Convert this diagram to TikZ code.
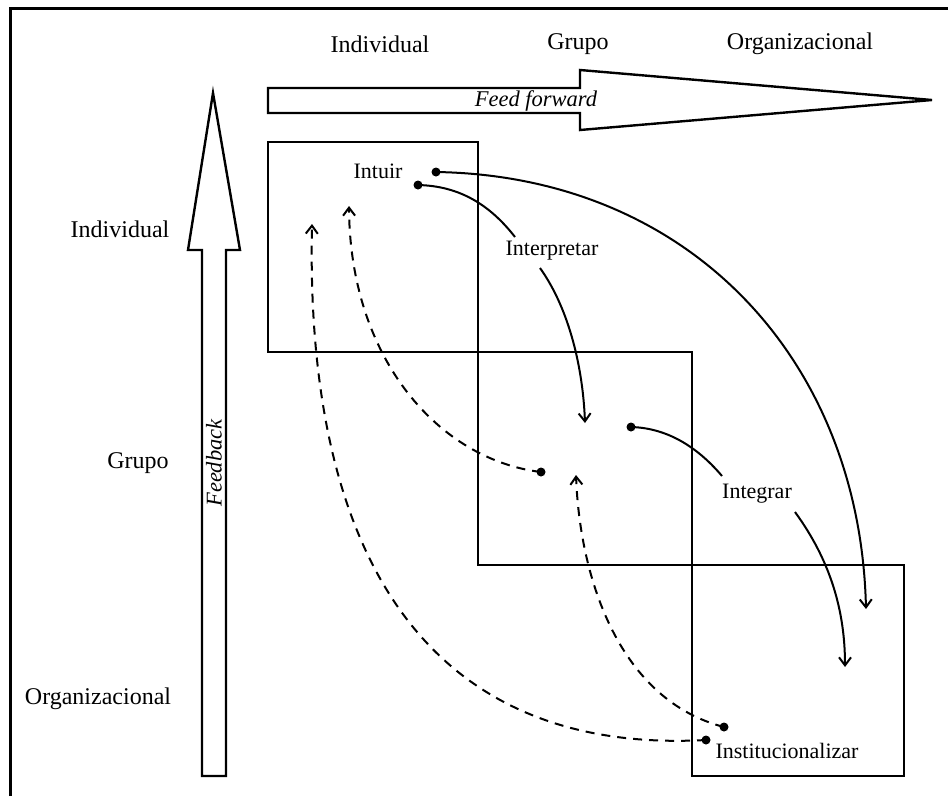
\documentclass[tikz,border=0pt]{standalone}
\usepackage{fontspec}
\setmainfont{Liberation Serif}
\usetikzlibrary{arrows.meta}
\begin{document}
\begin{tikzpicture}[x=1pt,y=-1pt,
  lab/.style={font=\fontsize{22}{26}\selectfont, inner sep=0pt},
  axlab/.style={font=\fontsize{24}{28}\selectfont, inner sep=0pt},
  boxline/.style={draw, line width=2.8pt},
  bigarrow/.style={draw, line width=2.4pt, line join=miter},
  conn/.style={line width=2pt, -{Straight Barb[length=8pt,width=12pt,line width=2pt]}},
  plain/.style={line width=2pt},
  dconn/.style={conn, dash pattern=on 9pt off 7pt},
  dotc/.style={circle, fill=black, inner sep=0pt, minimum size=9pt}]
\useasboundingbox (0,0) rectangle (948,796);
% frame
\draw[line width=3pt] (10,796) -- (10,8) -- (948,8);
% big arrows
\draw[bigarrow] (202,776) -- (202,250) -- (188,250) -- (213,93) -- (240,250) -- (226,250) -- (226,776) -- cycle;
\draw[bigarrow] (268,88) -- (580,88) -- (580,70) -- (932,100) -- (580,130) -- (580,113) -- (268,113) -- cycle;
\node[lab, font=\fontsize{22.5}{26}\selectfont\itshape] (ff) at (536,101) {Feed forward};
\node[lab, font=\fontsize{22.5}{26}\selectfont\itshape, rotate=90] (fb) at (214,463) {Feedback};
% axis labels
\node[axlab] (cI) at (380,44) {Individual};
\node[axlab] (cG) at (578,44) {Grupo};
\node[axlab] (cO) at (800,44) {Organizacional};
\node[axlab] (rI) at (120,229) {Individual};
\node[axlab] (rG) at (138,463) {Grupo};
\node[axlab] (rO) at (98,699) {Organizacional};
% boxes
\draw[boxline] (268,142) rectangle (478,352);
\draw[boxline] (478,352) rectangle (692,565);
\draw[boxline] (692,565) rectangle (904,776);
% process labels
\node[lab] (intuir) at (378,171) {Intuir};
\node[lab] (interp) at (552,251) {Interpretar};
\node[lab] (integ) at (757,494) {Integrar};
\node[lab] (inst) at (787,751) {Institucionalizar};
% dots
\node[dotc] (d1) at (436,172) {};
\node[dotc] (d2) at (418,185) {};
\node[dotc] (d3) at (631,427) {};
\node[dotc] (d4) at (541,472) {};
\node[dotc] (d5) at (724,727) {};
\node[dotc] (d6) at (706,740) {};
% arrow end points
\coordinate (e1) at (866,609);
\coordinate (e2) at (585,423);
\coordinate (e3) at (845,667);
\coordinate (e4) at (349,206);
\coordinate (e5) at (576,475);
\coordinate (e6) at (312,224);
\coordinate (s2) at (515,237);
\coordinate (s3) at (540,268);
\coordinate (s4) at (722,476);
\coordinate (s5) at (795,512);
% solid connectors
\draw[conn] (d1.center) .. controls (690,176) and (860,360) .. (e1);
\draw[plain] (d2.center) .. controls (460,186) and (490,205) .. (s2);
\draw[conn] (s3) .. controls (570,310) and (583,370) .. (e2);
\draw[plain] (d3.center) .. controls (670,428) and (700,450) .. (s4);
\draw[conn] (s5) .. controls (830,560) and (845,610) .. (e3);
% dashed connectors
\draw[dconn] (d4.center) .. controls (440,460) and (350,360) .. (e4);
\draw[dconn] (d5.center) .. controls (620,700) and (580,580) .. (e5);
\draw[dconn] (d6.center) .. controls (430,755) and (305,560) .. (e6);
\end{tikzpicture}
\end{document}
